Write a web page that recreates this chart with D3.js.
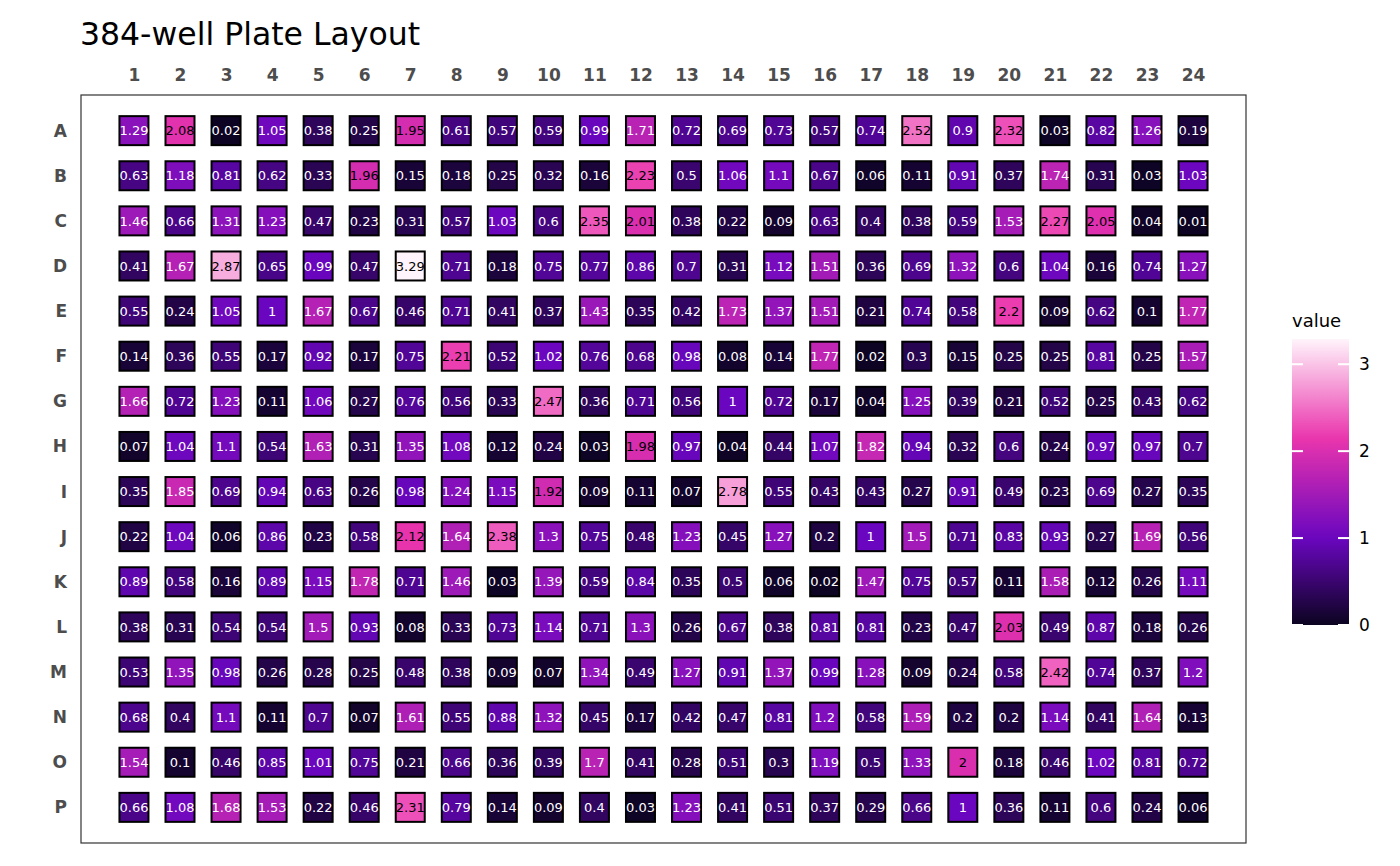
<!DOCTYPE html>
<html>
<head>
<meta charset="utf-8">
<script src="https://cdn.jsdelivr.net/npm/d3@7"></script>
<style>
  body { margin: 0; background: #fff; }
  svg { font-family: "DejaVu Sans", sans-serif; }
</style>
</head>
<body>
<div id="chart"></div>
<script>
// Plate rows and columns
const rows = ["A","B","C","D","E","F","G","H","I","J","K","L","M","N","O","P"];
const cols = d3.range(1, 25);

// Well values, one array per row (columns 1..24)
const rowA = [1.29,2.08,0.02,1.05,0.38,0.25,1.95,0.61,0.57,0.59,0.99,1.71,0.72,0.69,0.73,0.57,0.74,2.52,0.9,2.32,0.03,0.82,1.26,0.19];
const rowB = [0.63,1.18,0.81,0.62,0.33,1.96,0.15,0.18,0.25,0.32,0.16,2.23,0.5,1.06,1.1,0.67,0.06,0.11,0.91,0.37,1.74,0.31,0.03,1.03];
const rowC = [1.46,0.66,1.31,1.23,0.47,0.23,0.31,0.57,1.03,0.6,2.35,2.01,0.38,0.22,0.09,0.63,0.4,0.38,0.59,1.53,2.27,2.05,0.04,0.01];
const rowD = [0.41,1.67,2.87,0.65,0.99,0.47,3.29,0.71,0.18,0.75,0.77,0.86,0.7,0.31,1.12,1.51,0.36,0.69,1.32,0.6,1.04,0.16,0.74,1.27];
const rowE = [0.55,0.24,1.05,1,1.67,0.67,0.46,0.71,0.41,0.37,1.43,0.35,0.42,1.73,1.37,1.51,0.21,0.74,0.58,2.2,0.09,0.62,0.1,1.77];
const rowF = [0.14,0.36,0.55,0.17,0.92,0.17,0.75,2.21,0.52,1.02,0.76,0.68,0.98,0.08,0.14,1.77,0.02,0.3,0.15,0.25,0.25,0.81,0.25,1.57];
const rowG = [1.66,0.72,1.23,0.11,1.06,0.27,0.76,0.56,0.33,2.47,0.36,0.71,0.56,1,0.72,0.17,0.04,1.25,0.39,0.21,0.52,0.25,0.43,0.62];
const rowH = [0.07,1.04,1.1,0.54,1.63,0.31,1.35,1.08,0.12,0.24,0.03,1.98,0.97,0.04,0.44,1.07,1.82,0.94,0.32,0.6,0.24,0.97,0.97,0.7];
const rowI = [0.35,1.85,0.69,0.94,0.63,0.26,0.98,1.24,1.15,1.92,0.09,0.11,0.07,2.78,0.55,0.43,0.43,0.27,0.91,0.49,0.23,0.69,0.27,0.35];
const rowJ = [0.22,1.04,0.06,0.86,0.23,0.58,2.12,1.64,2.38,1.3,0.75,0.48,1.23,0.45,1.27,0.2,1,1.5,0.71,0.83,0.93,0.27,1.69,0.56];
const rowK = [0.89,0.58,0.16,0.89,1.15,1.78,0.71,1.46,0.03,1.39,0.59,0.84,0.35,0.5,0.06,0.02,1.47,0.75,0.57,0.11,1.58,0.12,0.26,1.11];
const rowL = [0.38,0.31,0.54,0.54,1.5,0.93,0.08,0.33,0.73,1.14,0.71,1.3,0.26,0.67,0.38,0.81,0.81,0.23,0.47,2.03,0.49,0.87,0.18,0.26];
const rowM = [0.53,1.35,0.98,0.26,0.28,0.25,0.48,0.38,0.09,0.07,1.34,0.49,1.27,0.91,1.37,0.99,1.28,0.09,0.24,0.58,2.42,0.74,0.37,1.2];
const rowN = [0.68,0.4,1.1,0.11,0.7,0.07,1.61,0.55,0.88,1.32,0.45,0.17,0.42,0.47,0.81,1.2,0.58,1.59,0.2,0.2,1.14,0.41,1.64,0.13];
const rowO = [1.54,0.1,0.46,0.85,1.01,0.75,0.21,0.66,0.36,0.39,1.7,0.41,0.28,0.51,0.3,1.19,0.5,1.33,2,0.18,0.46,1.02,0.81,0.72];
const rowP = [0.66,1.08,1.68,1.53,0.22,0.46,2.31,0.79,0.14,0.09,0.4,0.03,1.23,0.41,0.51,0.37,0.29,0.66,1,0.36,0.11,0.6,0.24,0.06];
const plateValues = [rowA,rowB,rowC,rowD,rowE,rowF,rowG,rowH,rowI,rowJ,rowK,rowL,rowM,rowN,rowO,rowP];

const legendTicks = [0, 1, 2, 3];

const width = 1400, height = 866;
const panel = {left: 81, right: 1246, top: 95, bottom: 843};

const wells = rows.flatMap((r, i) => cols.map((c, j) => ({row: r, col: c, value: plateValues[i][j]})));
const maxValue = d3.max(wells, d => d.value);

const x = d3.scalePoint().domain(cols).range([panel.left, panel.right]).padding(1.15);
const y = d3.scalePoint().domain(rows).range([panel.top, panel.bottom]).padding(0.79);

const color = d3.scaleLinear()
    .domain([0, 1, 2.15, maxValue])
    .range(["#0b0420", "#6a06bf", "#ea35ad", "#fff4fb"])
    .interpolate(d3.interpolateRgb);

const svg = d3.select("#chart").append("svg")
    .attr("width", width)
    .attr("height", height)
    .attr("viewBox", [0, 0, width, height]);

// Title
svg.append("text")
    .attr("x", 80)
    .attr("y", 45)
    .attr("font-size", 31.5)
    .attr("fill", "#000")
    .text("384-well Plate Layout");

// Panel border
svg.append("rect")
    .attr("x", panel.left)
    .attr("y", panel.top)
    .attr("width", panel.right - panel.left)
    .attr("height", panel.bottom - panel.top)
    .attr("fill", "none")
    .attr("stroke", "#333")
    .attr("stroke-width", 1.2);

// Column labels (top)
svg.append("g")
    .attr("transform", `translate(0,${panel.top - 14})`)
    .call(d3.axisTop(x).tickSize(0).tickPadding(0))
    .call(g => g.select(".domain").remove())
    .call(g => g.selectAll(".tick text")
        .attr("font-family", "DejaVu Sans")
        .attr("font-size", 17)
        .attr("font-weight", "bold")
        .attr("fill", "#4d4d4d"));

// Row labels (left)
svg.append("g")
    .attr("transform", `translate(${panel.left - 14},0)`)
    .call(d3.axisLeft(y).tickSize(0).tickPadding(0))
    .call(g => g.select(".domain").remove())
    .call(g => g.selectAll(".tick text")
        .attr("font-family", "DejaVu Sans")
        .attr("font-size", 17)
        .attr("font-weight", "bold")
        .attr("fill", "#4d4d4d"));

// Wells
const tile = 29;
const cells = svg.append("g").selectAll("g")
    .data(wells)
    .join("g")
    .attr("transform", d => `translate(${x(d.col)},${y(d.row)})`);

cells.append("rect")
    .attr("x", -tile / 2)
    .attr("y", -tile / 2)
    .attr("width", tile)
    .attr("height", tile)
    .attr("fill", d => color(d.value))
    .attr("stroke", "#000")
    .attr("stroke-width", 2);

cells.append("text")
    .attr("text-anchor", "middle")
    .attr("dy", "0.36em")
    .attr("font-size", 13)
    .attr("fill", d => d.value >= 1.9 ? "#000" : "#fff")
    .text(d => d3.format("~g")(d.value));

// Legend
const lg = {x: 1292, w: 57, top: 339, bottom: 625};
const ly = d3.scaleLinear().domain([0, maxValue]).range([lg.bottom, lg.top]);

const defs = svg.append("defs");
const grad = defs.append("linearGradient")
    .attr("id", "legend-grad")
    .attr("x1", 0).attr("y1", 1).attr("x2", 0).attr("y2", 0);
grad.selectAll("stop")
    .data(d3.range(0, 1.0001, 0.05))
    .join("stop")
    .attr("offset", t => t)
    .attr("stop-color", t => color(t * maxValue));

svg.append("text")
    .attr("x", lg.x)
    .attr("y", 327)
    .attr("font-size", 18)
    .attr("fill", "#000")
    .text("value");

svg.append("rect")
    .attr("x", lg.x)
    .attr("y", lg.top)
    .attr("width", lg.w)
    .attr("height", lg.bottom - lg.top)
    .attr("fill", "url(#legend-grad)");

const lt = svg.append("g").selectAll("g")
    .data(legendTicks)
    .join("g")
    .attr("transform", d => `translate(0,${ly(d)})`);

lt.append("line")
    .attr("x1", lg.x).attr("x2", lg.x + 11)
    .attr("stroke", "#fff").attr("stroke-width", 2);
lt.append("line")
    .attr("x1", lg.x + lg.w - 11).attr("x2", lg.x + lg.w)
    .attr("stroke", "#fff").attr("stroke-width", 2);
lt.append("text")
    .attr("x", lg.x + lg.w + 10)
    .attr("dy", "0.36em")
    .attr("font-size", 17)
    .attr("fill", "#000")
    .text(d => d);
</script>
</body>
</html>
